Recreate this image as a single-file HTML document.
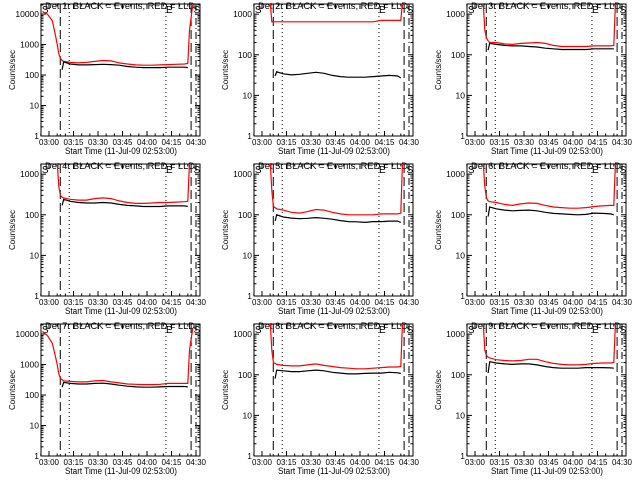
<!DOCTYPE html>
<html><head><meta charset="utf-8"><style>
body{margin:0;background:#fff;}
svg{display:block;font-family:"Liberation Sans",sans-serif;}
</style></head><body>
<svg id="chart" width="640" height="480" viewBox="0 0 640 480" xmlns="http://www.w3.org/2000/svg"></svg>
<script>
// minutes since 02:53:00
const times = [3,6,9,11,12,13,14,15,16,20,25,30,35,40,45,50,55,60,65,70,75,80,85,90,92,93,95];
const xTickLabels = ["03:00","03:15","03:30","03:45","04:00","04:15","04:30"];
const xTickMinutes = [7,22,37,52,67,82,97];
const detNames = ["1r","2r","3r","4r","5r","6r","7r","8r","9r"];
const yMaxLabel = [10000,1000,1000,1000,1000,1000,10000,1000,1000];
const red1 = [12000,10000,6000,2000,1000,500,350,300,280,260,250,260,280,300,290,250,230,215,210,210,215,220,225,230,240,3000,20000];
const blk1 = [null,null,null,null,null,null,null,150,270,230,215,215,220,225,220,210,190,180,175,175,175,180,180,180,175,null,null];
const red2 = [2000,2000,2000,2000,2000,650,650,650,650,650,650,650,650,650,650,650,650,650,650,650,650,700,700,700,700,2000,2000];
const blk2 = [null,null,null,null,null,null,null,30,38,34,32,33,35,37,35,31,29,28,28,28,29,30,31,30,27,null,null];
const red3 = [2000,2000,2000,2000,2000,400,260,220,200,200,185,180,190,195,200,190,170,160,160,160,160,165,165,165,170,2000,3000];
const blk3 = [null,null,null,null,null,null,null,130,190,180,170,165,165,160,155,145,140,135,135,135,135,140,140,140,140,null,null];
const red4 = [2000,2000,2000,2000,2000,500,300,270,260,240,230,230,250,260,250,220,200,190,190,195,200,200,205,210,215,2000,3000];
const blk4 = [null,null,null,null,null,null,null,170,240,215,200,195,195,200,195,180,170,165,160,160,160,165,165,165,160,null,null];
const red5 = [2000,2000,2000,2000,2000,400,160,150,140,130,115,110,120,135,130,115,105,100,100,100,100,105,105,105,110,2000,3000];
const blk5 = [null,null,null,null,null,null,null,70,100,88,83,80,82,85,82,78,72,68,67,65,68,68,70,70,65,null,null];
const red6 = [2000,2000,2000,2000,2000,500,260,220,210,200,180,170,185,195,190,170,155,150,145,145,150,160,165,170,170,2000,3000];
const blk6 = [null,null,null,null,null,null,null,90,155,140,130,125,128,130,125,115,108,105,102,100,102,110,108,105,100,null,null];
const red7 = [12000,9000,5000,1800,1000,500,350,320,290,280,270,270,290,300,270,250,230,225,220,220,225,240,240,240,240,3000,15000];
const blk7 = [null,null,null,null,null,null,null,180,260,240,230,230,240,245,230,210,195,185,180,180,185,190,190,190,185,null,null];
const red8 = [2000,2000,2000,2000,2000,400,200,190,180,170,165,165,175,185,170,160,150,145,140,140,145,150,155,155,160,2000,3000];
const blk8 = [null,null,null,null,null,null,null,80,130,125,120,120,125,130,125,115,110,105,105,108,110,110,115,112,108,null,null];
const red9 = [2000,2000,2000,2000,2000,400,300,270,260,235,225,220,225,240,240,210,190,180,175,175,180,190,195,195,200,2000,3000];
const blk9 = [null,null,null,null,null,null,null,110,210,195,185,180,185,185,175,160,150,145,145,145,150,150,150,148,145,null,null];
const redSeries = [red1,red2,red3,red4,red5,red6,red7,red8,red9];
const blackSeries = [blk1,blk2,blk3,blk4,blk5,blk6,blk7,blk8,blk9];
const dashedMin = [13.9, 94];
const dottedMin = [19.4, 78.6];
const dashDotMin = [97];

const NS="http://www.w3.org/2000/svg";
const svg=document.getElementById('chart');
function mk(tag,attrs,parent){const e=document.createElementNS(NS,tag);for(const k in attrs)e.setAttribute(k,attrs[k]);(parent||svg).appendChild(e);return e;}

const BX0=41,BX1=200,BY0=4,BY1=136;
const T0=2.1,T1=99.45;

for(let p=0;p<9;p++){
  const ox=(p%3)*213, oy=Math.floor(p/3)*160;
  const g=mk('g',{transform:`translate(${ox},${oy})`});
  
  
  const topLog = yMaxLabel[p]===10000?4.33:3.25;
  const decPx=(BY1-BY0)/topLog;
  const xs=t=>BX0+(t-T0)/(T1-T0)*(BX1-BX0);
  const ys=v=>BY1-Math.log10(v)*decPx;
  const clipId='clip'+p;
  const cp=mk('clipPath',{id:clipId},g);
  mk('rect',{x:BX0,y:BY0,width:BX1-BX0,height:BY1-BY0},cp);

  const ti=mk('text',{x:45,y:9,'font-size':'9.5',textLength:150,lengthAdjust:'spacingAndGlyphs'},g);
  ti.textContent='Det '+detNames[p]+' BLACK = Events, RED = LLD';
  
  

  const box=mk('rect',{x:BX0,y:BY0,width:BX1-BX0,height:BY1-BY0,fill:'none',stroke:'#000','stroke-width':1},g);
  
  

  const nDec=yMaxLabel[p]===10000?4:3;
  for(let d=0;d<=nDec;d++){
    const v=Math.pow(10,d), y=ys(v);
    mk('line',{x1:BX0,y1:y,x2:BX0+5,y2:y,stroke:'#000'},g);
    mk('line',{x1:BX1,y1:y,x2:BX1-5,y2:y,stroke:'#000'},g);
    const lb=mk('text',{x:BX0-2,y:y+3,'text-anchor':'end','font-size':'8.5'},g);
    lb.textContent=String(v);
    
    
    for(let m=2;m<=9;m++){
      const yy=ys(v*m); if(yy<BY0)break;
      mk('line',{x1:BX0,y1:yy,x2:BX0+2.5,y2:yy,stroke:'#000'},g);
      mk('line',{x1:BX1,y1:yy,x2:BX1-2.5,y2:yy,stroke:'#000'},g);
    }
  }
  for(let i=0;i<xTickMinutes.length;i++){
    const x=xs(xTickMinutes[i]);
    mk('line',{x1:x,y1:BY1,x2:x,y2:BY1-5,stroke:'#000'},g);
    mk('line',{x1:x,y1:BY0,x2:x,y2:BY0+5,stroke:'#000'},g);
    const lb=mk('text',{x:x-10,y:BY1+9,'font-size':'8',textLength:20,lengthAdjust:'spacingAndGlyphs'},g);
    lb.textContent=xTickLabels[i];
    
    
  }
  for(let t=2;t<=99;t+=5){
    const x=xs(t);
    mk('line',{x1:x,y1:BY1,x2:x,y2:BY1-2.5,stroke:'#000'},g);
    mk('line',{x1:x,y1:BY0,x2:x,y2:BY0+2.5,stroke:'#000'},g);
  }
  const xt=mk('text',{x:65,y:154,'font-size':'9',textLength:112,lengthAdjust:'spacingAndGlyphs'},g);
  xt.textContent='Start Time (11-Jul-09 02:53:00)';
  
  
  const yt=mk('text',{x:0,y:0,'text-anchor':'middle','font-size':'8',transform:'translate(15,70) rotate(-90)'},g);
  yt.textContent='Counts/sec';
  
  

  const cg=mk('g',{'clip-path':`url(#${clipId})`},g);
  dashedMin.forEach(t=>{const l=mk('line',{x1:xs(t),y1:BY0,x2:xs(t),y2:BY1,stroke:'#000','stroke-dasharray':'9,4'},cg);
    });
  dottedMin.forEach(t=>{const l=mk('line',{x1:xs(t),y1:BY0,x2:xs(t),y2:BY1,stroke:'#000','stroke-dasharray':'1,3'},cg);
    });
  dashDotMin.forEach(t=>{const l=mk('line',{x1:xs(t),y1:BY0,x2:xs(t),y2:BY1,stroke:'#000','stroke-dasharray':'7,3,1,3'},cg);
    });
  [['S',T0+0.5],['E',dottedMin[1]],['S',dashDotMin[0]-1.5]].forEach(([s,t])=>{
    const tx=mk('text',{x:xs(t),y:BY0+9,'font-size':'10'},cg);tx.textContent=s;
    });

  function path(arr){let d='',pen=false;
    for(let i=0;i<times.length;i++){const v=arr[i];if(v==null){pen=false;continue;}
      const x=xs(times[i]).toFixed(1),y=ys(v).toFixed(1);d+=(pen?'L':'M')+x+','+y;pen=true;}
    return d;}
  const rp=mk('path',{d:path(redSeries[p]),fill:'none',stroke:'#ff0000','stroke-width':1.2},cg);
  
  
  const bp=mk('path',{d:path(blackSeries[p]),fill:'none',stroke:'#000','stroke-width':1.2},cg);
  
  
}
</script>
</body></html>
